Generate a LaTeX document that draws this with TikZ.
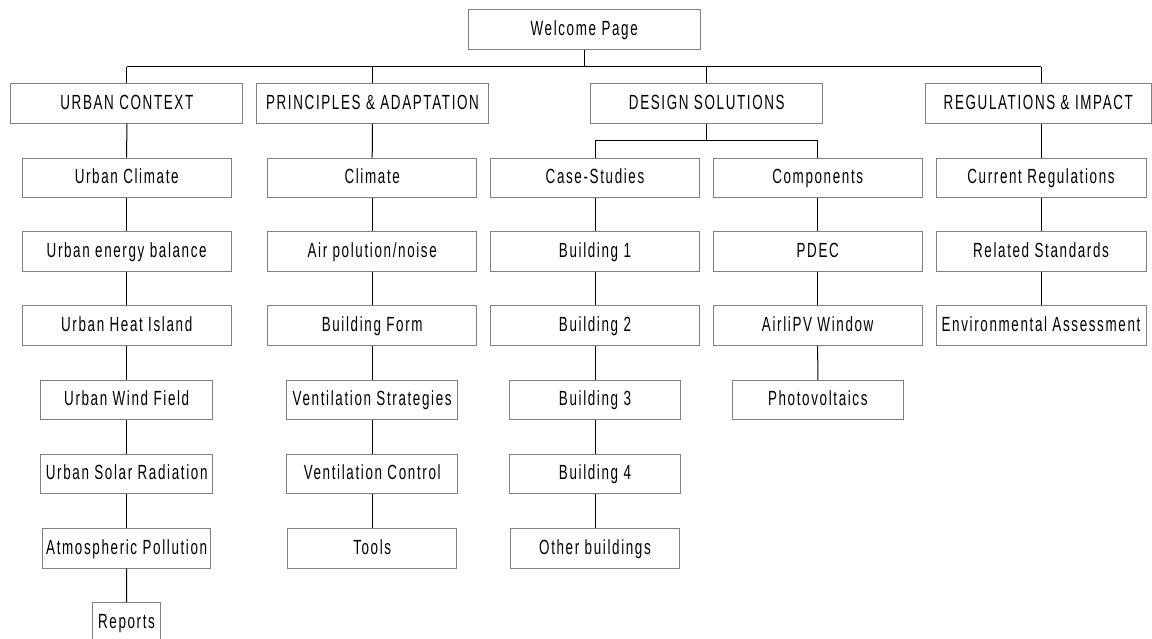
\documentclass[tikz,border=0pt]{standalone}
\usepackage{fontspec}
\setmainfont{Liberation Sans}[FakeStretch=0.655, LetterSpace=8]
\definecolor{boxgray}{HTML}{808080}
\tikzset{
  box/.style={draw=boxgray, line width=1pt, fill=white, minimum height=39.5pt,
    inner sep=0pt, anchor=center, text height=15pt, text depth=3.5pt,
    font=\fontsize{20.5}{24}\selectfont},
  wide/.style={box, minimum width=209pt},
  mid/.style={box, minimum width=171.5pt},
  narrow/.style={box, minimum width=168.5pt},
  head/.style={box, minimum width=231.7pt},
  link/.style={draw=black, line width=1pt}
}
\begin{document}
\begin{tikzpicture}[x=1pt,y=-1pt]
\useasboundingbox (0,0) rectangle (1152,639);
\clip (0,0) rectangle (1152,639);

% top level
\node[head] (wp) at (584.2,29.3) {Welcome Page};
\node[head] (uc) at (126.8,103.3) {URBAN CONTEXT};
\node[head] (pa) at (372.5,103.3) {PRINCIPLES \& ADAPTATION};
\node[head] (ds) at (706.8,103.3) {DESIGN SOLUTIONS};
\node[box, minimum width=226.5pt] (ri) at (1038.3,103.3) {REGULATIONS \& IMPACT};

% urban context
\node[wide] (uc1) at (126.7,177.8) {Urban Climate};
\node[wide] (uc2) at (126.7,251.7) {Urban energy balance};
\node[wide] (uc3) at (126.7,325.7) {Urban Heat Island};
\node[mid] (uc4) at (126.7,400) {Urban Wind Field};
\node[mid] (uc5) at (126.7,474) {Urban Solar Radiation};
\node[narrow] (uc6) at (126.7,548.3) {Atmospheric Pollution};
\node[box, minimum width=68.4pt, minimum height=40pt] (uc7) at (126.5,622.3) {Reports};

% principles & adaptation
\node[wide] (pa1) at (372.2,177.8) {Climate};
\node[wide] (pa2) at (372.2,251.7) {Air polution/noise};
\node[wide] (pa3) at (372.2,325.7) {Building Form};
\node[mid] (pa4) at (372.2,400) {Ventilation Strategies};
\node[mid] (pa5) at (372.2,474) {Ventilation Control};
\node[narrow] (pa6) at (372.2,548.3) {Tools};

% design solutions: case studies
\node[wide] (cs) at (595,177.8) {Case-Studies};
\node[wide] (cs1) at (595,251.7) {Building 1};
\node[wide] (cs2) at (595,325.7) {Building 2};
\node[mid] (cs3) at (595,400) {Building 3};
\node[mid] (cs4) at (595,474) {Building 4};
\node[narrow] (cs5) at (595,548.3) {Other buildings};

% design solutions: components
\node[wide] (co) at (817.7,177.8) {Components};
\node[wide] (co1) at (817.7,251.7) {PDEC};
\node[wide] (co2) at (817.7,325.7) {AirliPV Window};
\node[mid] (co3) at (817.8,400) {Photovoltaics};

% regulations & impact
\node[box, minimum width=210pt] (ri1) at (1041,177.8) {Current Regulations};
\node[box, minimum width=210pt] (ri2) at (1041,251.7) {Related Standards};
\node[box, minimum width=210pt] (ri3) at (1041,325.7) {Environmental Assessment};

% main bus
\coordinate (bus) at (0,66.7);
\coordinate (subbus) at (0,140.7);
\draw[link] (wp.south) -- (wp.south |- bus);
\draw[link] (uc.north |- bus) -- (ri1.north |- bus);
\draw[link] (uc.north |- bus) -- (uc.north);
\draw[link] (pa.north |- bus) -- (pa.north);
\draw[link] (ds.north |- bus) -- (ds.north);
\draw[link] (ri1.north |- bus) -- (ri1.north |- ri.north);

% design solutions split
\draw[link] (ds.south) -- (ds.south |- subbus);
\draw[link] (cs.north |- subbus) -- (co.north |- subbus);
\draw[link] (cs.north |- subbus) -- (cs.north);
\draw[link] (co.north |- subbus) -- (co.north);

% columns
\draw[link] (uc.south) -- (uc1.north);
\foreach \a/\b in {uc1/uc2, uc2/uc3, uc3/uc4, uc4/uc5, uc5/uc6, uc6/uc7,
                   pa/pa1, pa1/pa2, pa2/pa3, pa3/pa4, pa4/pa5, pa5/pa6,
                   cs/cs1, cs1/cs2, cs2/cs3, cs3/cs4, cs4/cs5,
                   co/co1, co1/co2, co2/co3,
                   ri1/ri2, ri2/ri3}
  \draw[link] (\a.south) -- (\b.north);
\draw[link] (ri1.north |- ri.south) -- (ri1.north);
\end{tikzpicture}
\end{document}
